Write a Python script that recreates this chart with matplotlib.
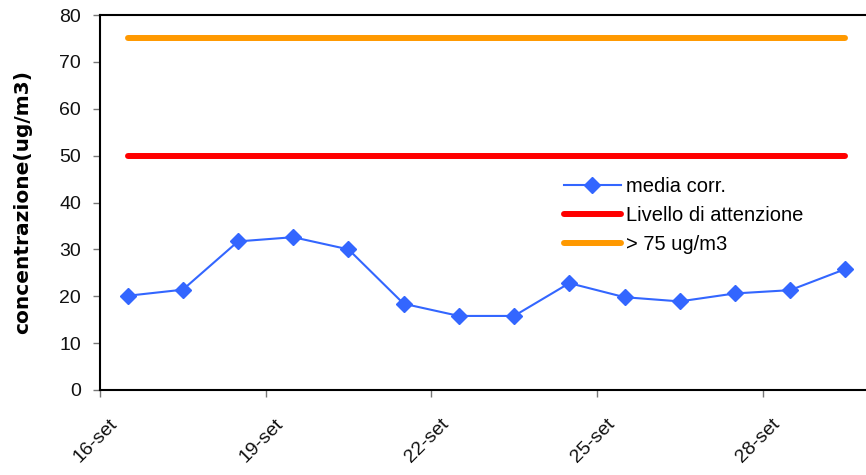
import numpy as np
import matplotlib
matplotlib.use("Agg")
import matplotlib.pyplot as plt
from matplotlib.transforms import ScaledTranslation

plt.rcParams['font.family'] = ['Liberation Sans', 'DejaVu Sans']

# dati
giorni = ['16-set', '17-set', '18-set', '19-set', '20-set', '21-set', '22-set',
          '23-set', '24-set', '25-set', '26-set', '27-set', '28-set', '29-set']
media_corr = [20.1, 21.4, 31.7, 32.6, 30.0, 18.4, 15.8,
              15.8, 22.8, 19.8, 18.9, 20.6, 21.3, 25.8]
livello_attenzione = 50
soglia_75 = 75

fig = plt.figure(figsize=(8.66, 4.75), dpi=100)
# the plot area runs a bit past the right edge, like the original
ax = fig.add_axes([100/866, 85/475, 773/866, 375/475])

x = np.arange(len(giorni)) + 0.5

ax.plot(x, media_corr, color='#3366FF', lw=1.5, marker='D', ms=8.5,
        label='media corr.', zorder=3)
ax.plot([x[0], x[-1]], [livello_attenzione]*2, color='#FF0000', lw=4.3,
        solid_capstyle='round', label='Livello di attenzione')
ax.plot([x[0], x[-1]], [soglia_75]*2, color='#FF9900', lw=4.3,
        solid_capstyle='round', label='> 75 ug/m3')

ax.set_xlim(0, len(giorni))
ax.set_ylim(0, 80)
ax.set_yticks(range(0, 81, 10))
ax.set_xticks(range(0, len(giorni), 3))
ax.set_xticklabels(giorni[::3], rotation=45, ha='right', va='top')

for s in ax.spines.values():
    s.set_linewidth(1.5)
ax.tick_params(axis='y', labelsize=14, length=5, width=1, color='#777777',
               labelcolor='#111111', pad=8.5)
ax.tick_params(axis='x', labelsize=14, length=5, width=1, color='#777777',
               labelcolor='#111111', pad=13.5)
# shift the rotated labels to the right, as Excel does
shift = ScaledTranslation(21/100, 0, fig.dpi_scale_trans)
for lab in ax.get_xticklabels():
    lab.set_transform(lab.get_transform() + shift)

ax.set_ylabel('concentrazione(ug/m3)', fontsize=14.5, fontweight='bold',
              family=['DejaVu Sans'], labelpad=19.5)

ax.legend(loc='upper left', bbox_to_anchor=(564/866, 1 - 177/475),
          bbox_transform=fig.transFigure, frameon=False, fontsize=14.5,
          handlelength=2.83, handletextpad=0.25, labelspacing=0.5,
          borderpad=0, borderaxespad=0)

fig.savefig('out.png', dpi=100)
